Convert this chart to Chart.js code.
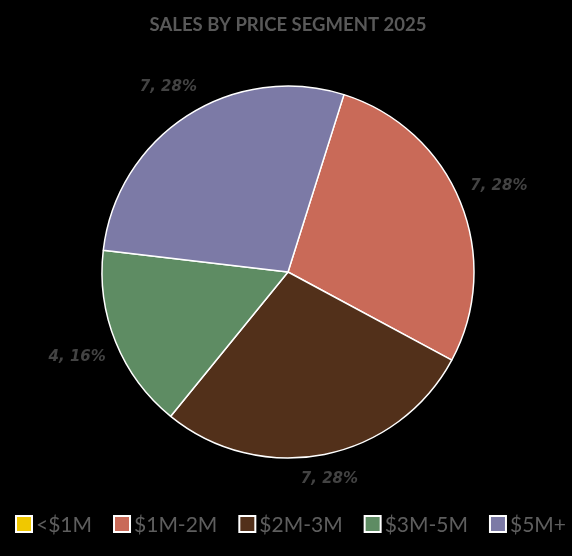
<!DOCTYPE html>
<html>
<head>
<meta charset="utf-8">
<script src="https://cdn.jsdelivr.net/npm/chart.js@4"></script>
<style>
  html, body { margin: 0; padding: 0; background: #000; }
  #wrap { width: 572px; height: 556px; }
</style>
</head>
<body>
<div id="wrap"><canvas id="segChart" width="572" height="556"></canvas></div>
<script>
// données du graphique
const segments = ['<$1M', '$1M-2M', '$2M-3M', '$3M-5M', '$5M+'];
const sales = [0, 7, 7, 4, 7];
const colors = ['#F0C800', '#C96A58', '#52301A', '#5E8C63', '#7C7AA6'];

const total = sales.reduce((a, b) => a + b, 0);

// étiquettes "valeur, pourcentage" à l'extérieur des parts
const outsideLabels = {
    id: 'outsideLabels',
    afterDatasetsDraw(chart) {
        const ctx = chart.ctx;
        const arcs = chart.getDatasetMeta(0).data;
        ctx.save();
        ctx.font = 'italic bold 15px "DejaVu Sans"';
        ctx.fillStyle = '#434343';
        ctx.textAlign = 'center';
        ctx.textBaseline = 'middle';
        arcs.forEach((arc, i) => {
            if (!sales[i]) return;
            const p = arc.getProps(['x', 'y', 'startAngle', 'endAngle', 'outerRadius'], true);
            const mid = (p.startAngle + p.endAngle) / 2;
            const text = sales[i] + ', ' + Math.round(sales[i] / total * 100) + '%';
            const hw = ctx.measureText(text).width / 2;
            const hh = 8;
            const cx = Math.cos(mid), cy = Math.sin(mid);
            const d = p.outerRadius + 12 + Math.abs(cx) * hw + Math.abs(cy) * hh;
            ctx.fillText(text, p.x + cx * d, p.y + cy * d);
        });
        ctx.restore();
    }
};

// légende dessinée à la main (espacement plus serré que celle de Chart.js)
const bottomLegend = {
    id: 'bottomLegend',
    afterDraw(chart) {
        const ctx = chart.ctx;
        const box = 14, gapText = 5, y = 524;
        ctx.save();
        ctx.font = '21px Lato';
        ctx.textBaseline = 'middle';
        const widths = segments.map(s => ctx.measureText(s).width);
        const used = widths.reduce((a, w) => a + box + gapText + w, 0);
        // répartir sur la largeur 17..566 comme l'original
        const gapItem = (549 - used) / (segments.length - 1);
        let x = 17;
        segments.forEach((s, i) => {
            ctx.fillStyle = '#FFFFFF';
            ctx.fillRect(x - 2, y - box / 2 - 2, box + 4, box + 4);
            ctx.fillStyle = colors[i];
            ctx.fillRect(x, y - box / 2, box, box);
            ctx.fillStyle = '#5E5E5E';
            ctx.fillText(s, x + box + gapText, y + 1);
            x += box + gapText + widths[i] + gapItem;
        });
        ctx.restore();
    }
};

new Chart(document.getElementById('segChart'), {
    type: 'pie',
    data: {
        labels: segments,
        datasets: [{
            data: sales,
            backgroundColor: colors,
            borderColor: '#FFFFFF',
            borderWidth: 1.5,
            radius: 186
        }]
    },
    options: {
        responsive: false,
        animation: false,
        rotation: 17.5,
        layout: { padding: { left: 4, right: 0, top: 0, bottom: 65 } },
        plugins: {
            title: {
                display: true,
                text: 'SALES BY PRICE SEGMENT 2025',
                color: '#595959',
                font: { family: 'Lato', size: 18.5, weight: 'bold' },
                padding: { top: 14, bottom: 16.8 }
            },
            legend: { display: false },
            tooltip: { enabled: false }
        }
    },
    plugins: [outsideLabels, bottomLegend]
});
</script>
</body>
</html>
